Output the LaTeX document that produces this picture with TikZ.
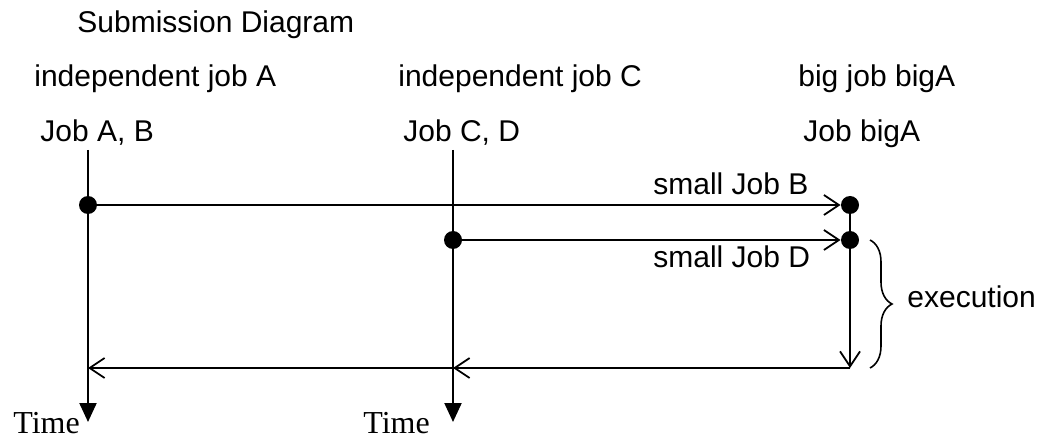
\documentclass[tikz,border=0pt]{standalone}
\usepackage{fontspec}
\setmainfont{Liberation Sans}
\newfontfamily\timefont{Liberation Serif}
\usetikzlibrary{arrows.meta,decorations.pathreplacing}

\tikzset{
  lbl/.style={anchor=base west, inner sep=0pt, font=\fontsize{15}{18}\selectfont},
  timelbl/.style={anchor=base west, inner sep=0pt, font=\timefont\fontsize{16}{19}\selectfont},
  dot/.style={circle, fill=black, inner sep=0pt, minimum size=9pt},
  flow/.style={line width=0.9pt, -{Straight Barb[length=7.5pt,width=10pt,line width=0.9pt]}},
  timeline/.style={line width=1.1pt, -{Triangle[length=9.5pt,width=8.5pt]}},
}

\begin{document}
\begin{tikzpicture}[x=0.5pt, y=-0.5pt]
    \useasboundingbox (0,0) rectangle (1039,438);

    % Headings
    \node[lbl] (title) at (77,33) {Submission Diagram};
    \node[lbl] (indA) at (34,87) {independent job A};
    \node[lbl] (indC) at (398,87) {independent job C};
    \node[lbl] (big) at (798,87) {big job bigA};
    \node[lbl] (jobsAB) at (40,142) {Job A, B};
    \node[lbl] (jobsCD) at (403,142) {Job C, D};
    \node[lbl] (jobBig) at (803,142) {Job bigA};

    % Time axes
    \coordinate (topA) at (88,150);
    \coordinate (endA) at (88,422);
    \coordinate (topC) at (453,150);
    \coordinate (endC) at (453,422);
    \draw[timeline] (topA) -- (endA);
    \draw[timeline] (topC) -- (endC);
    \node[timelbl] (timeA) at (13,433) {Time};
    \node[timelbl] (timeC) at (363,433) {Time};

    % Submission points
    \node[dot] (subA) at (88,205) {};
    \node[dot] (subC) at (453,240) {};
    \node[dot] (runB) at (850,205) {};
    \node[dot] (runD) at (850,240) {};

    % Small jobs handed to the big job
    \draw[flow, line width=1.1pt] (subA) -- (runB);
    \draw[flow] (subC) -- (runD);
    \node[lbl] (smallB) at (653,195) {small Job B};
    \node[lbl] (smallD) at (653,268) {small Job D};

    % Execution of bigA and the results going back
    \coordinate (done) at (850,368);
    \coordinate (retC) at (453,368);
    \coordinate (retA) at (88,368);
    \draw[line width=0.9pt] (runB) -- (runD);
    \draw[flow] (runD) -- (done);
    \draw[flow, line width=1.4pt] (done) -- (retC);
    \draw[flow] (done) -- (retA);

    % Brace over the run time
    \coordinate (brTop) at (870,240);
    \coordinate (brBot) at (870,368);
    \draw[line width=0.8pt, decorate, decoration={brace, amplitude=11pt}] (brTop) -- (brBot);
    \node[lbl] (exec) at (907,307) {execution};
\end{tikzpicture}
\end{document}
